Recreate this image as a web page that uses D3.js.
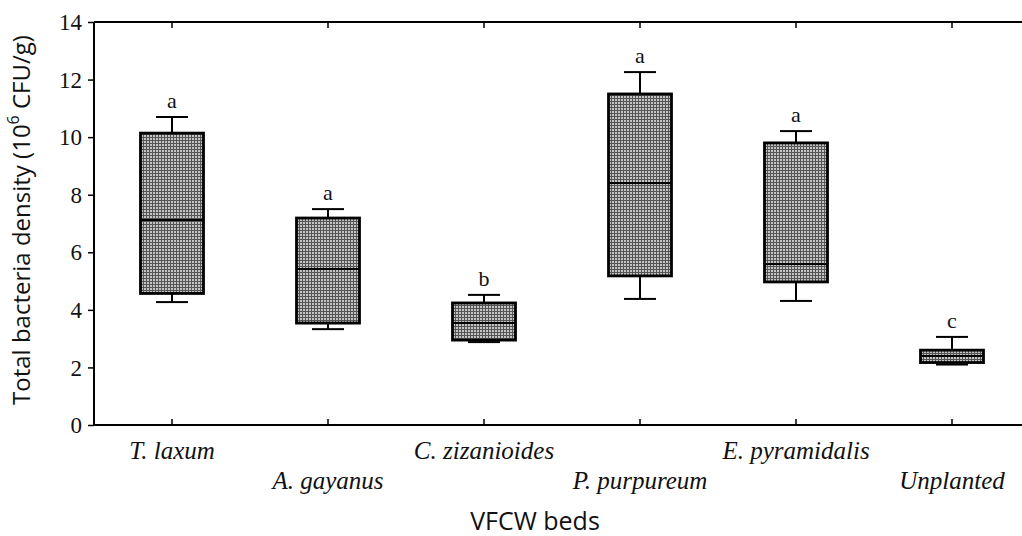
<!DOCTYPE html>
<html><head><meta charset="utf-8">
<script src="https://cdn.jsdelivr.net/npm/d3@7"></script>
<style>body{margin:0;background:#fff}</style>
</head><body>
<script>
const categories = ["T. laxum","A. gayanus","C. zizanioides","P. purpureum","E. pyramidalis","Unplanted"];
const whiskerMin = [4.27, 3.33, 2.88, 4.38, 4.31, 2.1];
const q1 = [4.57, 3.54, 2.95, 5.18, 4.97, 2.17];
const median = [7.12, 5.42, 3.54, 8.41, 5.59, 2.4];
const q3 = [10.14, 7.19, 4.24, 11.5, 9.8, 2.6];
const whiskerMax = [10.7, 7.5, 4.52, 12.26, 10.21, 3.06];
const groupLetters = ["a","a","b","a","a","c"];
const yTicks = [0,2,4,6,8,10,12,14];

const W = 1022, H = 536;
const svg = d3.select("body").append("svg").attr("width", W).attr("height", H);
const defs = svg.append("defs");
const pat = defs.append("pattern").attr("id","chk").attr("patternUnits","userSpaceOnUse").attr("width",3).attr("height",3);
pat.append("rect").attr("width",3).attr("height",3).attr("fill","#555");
pat.append("rect").attr("width",2).attr("height",2).attr("fill","#c4c4c4");

const mLeft = 94, mTop = 22, mBottom = 425, mRight = 1030;
const x = d3.scaleBand().domain(categories).range([mLeft, mRight]).paddingInner(0).paddingOuter(0);
const y = d3.scaleLinear().domain([0,14]).range([mBottom, mTop]);

const g = svg.append("g");
const yAxis = d3.axisLeft(y).tickValues(yTicks).tickSize(6).tickPadding(6);
const ya = g.append("g").attr("transform",`translate(${mLeft},0)`).call(yAxis);
ya.select(".domain").attr("stroke-width",2).attr("d",`M0,${mTop}V${mBottom}`);
ya.selectAll(".tick line").attr("stroke-width",1.5);
ya.selectAll("text").attr("font-family","'Liberation Serif', serif").attr("font-size",23).attr("fill","#111").attr("dy","0.33em");

const xb = g.append("g").attr("transform",`translate(0,${mBottom})`).call(d3.axisBottom(x).tickSize(-6).tickFormat(""));
xb.select(".domain").attr("stroke-width",2).attr("d",`M${mLeft},0H${W}`);
xb.selectAll(".tick line").attr("stroke-width",1.5);
const xt = g.append("g").attr("transform",`translate(0,${mTop})`).call(d3.axisTop(x).tickSize(-6).tickFormat(""));
xt.select(".domain").attr("stroke-width",2).attr("d",`M${mLeft},0H${W}`);
xt.selectAll(".tick line").attr("stroke-width",1.5);

svg.append("g").selectAll("text").data(categories).join("text")
  .attr("x", d => x(d) + x.bandwidth()/2)
  .attr("y", (d,i) => i % 2 === 0 ? 459 : 489)
  .attr("text-anchor","middle")
  .attr("font-family","'Liberation Serif', serif").attr("font-style","italic").attr("font-size",25).attr("fill","#111")
  .text(d => d);

const bw = 63, cw = 32;
const bx = svg.append("g");
categories.forEach((c,i) => {
  const cx = x(c) + x.bandwidth()/2;
  const gg = bx.append("g");
  gg.append("line").attr("x1",cx).attr("x2",cx).attr("y1",y(whiskerMax[i])).attr("y2",y(q3[i])).attr("stroke","#000").attr("stroke-width",2);
  gg.append("line").attr("x1",cx).attr("x2",cx).attr("y1",y(q1[i])).attr("y2",y(whiskerMin[i])).attr("stroke","#000").attr("stroke-width",2);
  gg.append("line").attr("x1",cx-cw/2).attr("x2",cx+cw/2).attr("y1",y(whiskerMax[i])).attr("y2",y(whiskerMax[i])).attr("stroke","#000").attr("stroke-width",2);
  gg.append("line").attr("x1",cx-cw/2).attr("x2",cx+cw/2).attr("y1",y(whiskerMin[i])).attr("y2",y(whiskerMin[i])).attr("stroke","#000").attr("stroke-width",2);
  gg.append("rect").attr("x",cx-bw/2).attr("width",bw).attr("y",y(q3[i])).attr("height",y(q1[i])-y(q3[i]))
    .attr("fill","url(#chk)").attr("stroke","#000").attr("stroke-width",2.8);
  gg.append("line").attr("x1",cx-bw/2).attr("x2",cx+bw/2).attr("y1",y(median[i])).attr("y2",y(median[i])).attr("stroke","#000").attr("stroke-width",2);
  gg.append("text").attr("x",cx).attr("y",y(whiskerMax[i]) - 9).attr("text-anchor","middle")
    .attr("font-family","'Liberation Serif', serif").attr("font-size",22).attr("fill","#111").text(groupLetters[i]);
});

const yt = svg.append("text").attr("transform","translate(30,220) rotate(-90)").attr("text-anchor","middle")
  .attr("font-family","'Open Sans', 'Liberation Sans', sans-serif").attr("font-size",24).attr("fill","#111");
yt.append("tspan").text("Total bacteria density (10");
yt.append("tspan").attr("baseline-shift","super").attr("font-size",16).text("6");
yt.append("tspan").text(" CFU/g)");
svg.append("text").attr("x",535).attr("y",530).attr("text-anchor","middle")
  .attr("font-family","'Open Sans', 'Liberation Sans', sans-serif").attr("font-size",25).attr("fill","#111").text("VFCW beds");
</script>
</body></html>
